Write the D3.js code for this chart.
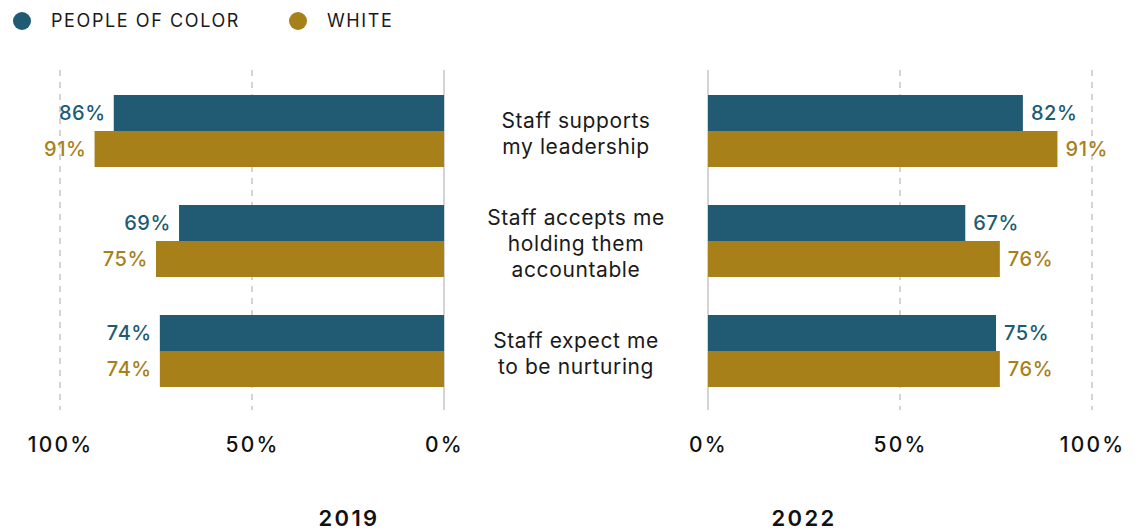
<!DOCTYPE html>
<html>
<head>
<meta charset="utf-8">
<script src="https://cdn.jsdelivr.net/npm/d3@7/dist/d3.min.js"></script>
<style>
  html, body { margin: 0; padding: 0; background: #fff; }
  svg { display: block; font-family: "Inter", "Noto Sans", sans-serif; }
</style>
</head>
<body>
<svg id="chart" width="1140" height="531"></svg>
<script>
// Survey statements (one line per array entry)
const categories = [
  ["Staff supports", "my leadership"],
  ["Staff accepts me", "holding them", "accountable"],
  ["Staff expect me", "to be nurturing"]
];
const seriesNames = ["PEOPLE OF COLOR", "WHITE"];
const seriesColors = ["#215b73", "#a88019"];

// Share agreeing, in percent
const poc2019   = [86, 69, 74];
const white2019 = [91, 75, 74];
const poc2022   = [82, 67, 75];
const white2022 = [91, 76, 76];

const tickValues = [0, 50, 100];
const years = ["2019", "2022"];

const svg = d3.select("#chart");
const catKeys = categories.map((c, i) => i);

const y = d3.scaleBand().domain(catKeys).range([76, 406])
  .paddingInner(38 / 110).paddingOuter(19 / 110);
const ySub = d3.scaleBand().domain([0, 1]).range([0, y.bandwidth()]);

const panels = [
  { year: years[0], values: [poc2019, white2019], x: d3.scaleLinear().domain([0, 100]).range([444, 60]), dir: -1 },
  { year: years[1], values: [poc2022, white2022], x: d3.scaleLinear().domain([0, 100]).range([708, 1092]), dir: 1 }
];

panels.forEach(p => {
  const g = svg.append("g");

  // gridlines
  g.selectAll("line.grid").data(tickValues).join("line")
    .attr("x1", d => p.x(d)).attr("x2", d => p.x(d))
    .attr("y1", 70).attr("y2", 410)
    .attr("stroke", "#d4d4d4")
    .attr("stroke-width", 2)
    .attr("stroke-dasharray", d => d === 0 ? null : "6,6");

  // bars
  p.values.forEach((vals, s) => {
    g.selectAll(null).data(vals).join("rect")
      .attr("x", d => Math.min(p.x(0), p.x(d)))
      .attr("width", d => Math.abs(p.x(d) - p.x(0)))
      .attr("y", (d, i) => y(i) + ySub(s))
      .attr("height", ySub.bandwidth())
      .attr("fill", seriesColors[s]);

    g.selectAll(null).data(vals).join("text")
      .attr("x", d => p.x(d) + p.dir * 8)
      .attr("y", (d, i) => y(i) + ySub(s) + ySub.bandwidth() / 2)
      .attr("dy", "0.36em")
      .attr("text-anchor", p.dir < 0 ? "end" : "start")
      .attr("fill", seriesColors[s])
      .attr("font-size", 20)
      .attr("font-weight", 500)
      .attr("letter-spacing", 0.6)
      .text(d => d + "%");
  });

  // axis tick labels
  const axis = d3.axisBottom(p.x).tickValues(tickValues)
    .tickFormat(d => d + "%").tickSize(0).tickPadding(0);
  const ax = g.append("g").attr("transform", "translate(0,437)").call(axis);
  ax.select(".domain").remove();
  ax.selectAll("text")
    .attr("font-family", "Inter, 'Noto Sans', sans-serif")
    .attr("font-size", 21)
    .attr("font-weight", 500)
    .attr("letter-spacing", 2.2)
    .attr("fill", "#111")
    .attr("dy", "0.71em");

  // year label
  g.append("text")
    .attr("x", p.dir < 0 ? 349 : 804)
    .attr("y", 526)
    .attr("text-anchor", "middle")
    .attr("font-size", 22)
    .attr("font-weight", 600)
    .attr("letter-spacing", 2.4)
    .attr("fill", "#111")
    .text(p.year);
});

// statement labels in the middle
const lineH = 26;
categories.forEach((lines, i) => {
  const cy = y(i) + y.bandwidth() / 2 + 2;
  const t = svg.append("text")
    .attr("text-anchor", "middle")
    .attr("font-size", 21)
    .attr("letter-spacing", 0.6)
    .attr("fill", "#1a1a1a");
  lines.forEach((ln, k) => {
    t.append("tspan")
      .attr("x", 576)
      .attr("y", cy + (k - (lines.length - 1) / 2) * lineH)
      .attr("dy", "0.36em")
      .text(ln);
  });
});

// legend
const legend = svg.append("g");
const legendX = [22, 298];
seriesNames.forEach((name, s) => {
  legend.append("circle")
    .attr("cx", legendX[s]).attr("cy", 21).attr("r", 9)
    .attr("fill", seriesColors[s]);
  legend.append("text")
    .attr("x", legendX[s] + 29).attr("y", 21)
    .attr("dy", "0.36em")
    .attr("font-size", 18)
    .attr("letter-spacing", 1.6)
    .attr("fill", "#1a1a1a")
    .text(name);
});
</script>
</body>
</html>
